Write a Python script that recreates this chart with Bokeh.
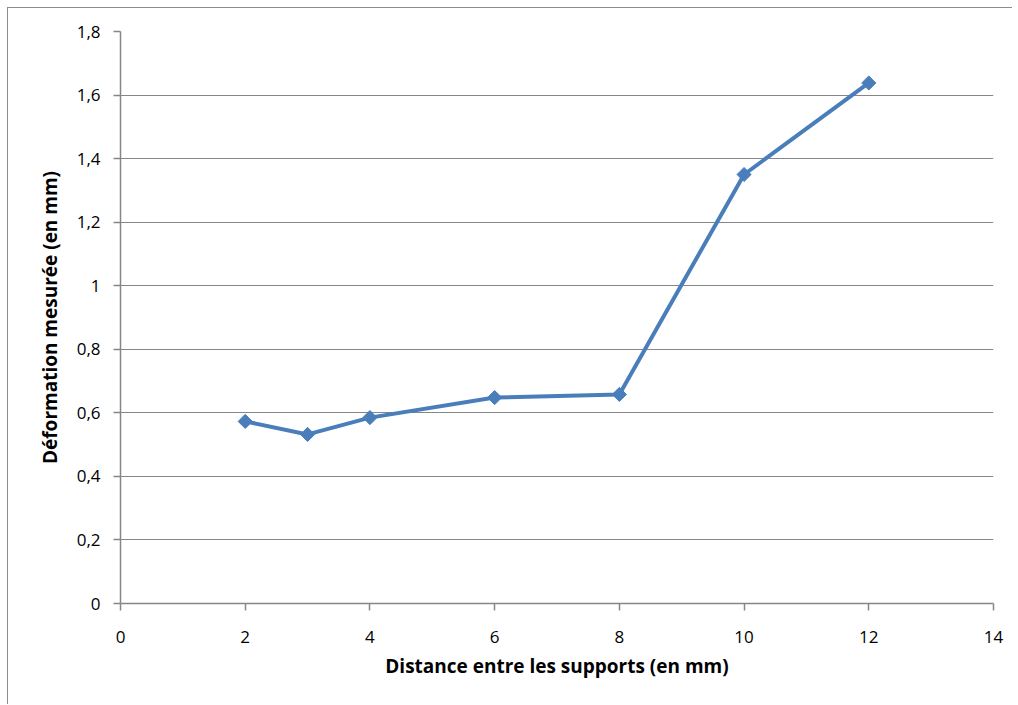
import math
from bokeh.plotting import figure
from bokeh.models import Range1d, FixedTicker, CustomJSTickFormatter
from bokeh.embed import file_html
from bokeh.resources import INLINE

# Data
distance_mm = [2, 3, 4, 6, 8, 10, 12]
deformation_mm = [0.573, 0.532, 0.585, 0.648, 0.658, 1.35, 1.638]
x_ticks = [0, 2, 4, 6, 8, 10, 12, 14]
y_ticks = [0, 0.2, 0.4, 0.6, 0.8, 1.0, 1.2, 1.4, 1.6, 1.8]
x_title = "Distance entre les supports (en mm)"
y_title = "Déformation mesurée (en mm)"

FONT = "Open Sans"
GRID = "#868686"
BLUE = "#4A7EBB"

p = figure(width=1005, height=697, output_backend="svg", toolbar_location=None,
           x_range=Range1d(0, 14), y_range=Range1d(0, 1.8),
           min_border_left=112, min_border_right=20, min_border_top=23, min_border_bottom=102,
           styles={"margin-left": "7px", "margin-top": "7px",
                   "border-left": "1px solid #8c8c8c", "border-top": "1px solid #8c8c8c"})
p.outline_line_color = None
p.background_fill_color = "white"
p.border_fill_color = "white"

p.line(distance_mm, deformation_mm, line_color=BLUE, line_width=4)
p.scatter(distance_mm, deformation_mm, marker="square", angle=math.pi / 4, size=10,
          fill_color=BLUE, line_color=BLUE)

p.xgrid.grid_line_color = None
p.ygrid.grid_line_color = GRID
p.ygrid.grid_line_width = 1

p.xaxis.ticker = FixedTicker(ticks=x_ticks)
p.yaxis.ticker = FixedTicker(ticks=y_ticks)
p.yaxis.formatter = CustomJSTickFormatter(code="""
const r = Math.round(tick*10)/10;
if (Math.abs(r - Math.round(r)) < 1e-9) return String(Math.round(r));
return r.toFixed(1).replace('.', ',');
""")

for ax in (p.xaxis, p.yaxis):
    ax.axis_line_color = GRID
    ax.axis_line_width = 1.5
    ax.major_tick_line_color = GRID
    ax.major_tick_line_width = 1.5
    ax.major_tick_out = 7
    ax.major_tick_in = 0
    ax.minor_tick_line_color = None
    ax.major_label_text_font = FONT
    ax.major_label_text_font_size = "17px"
    ax.major_label_text_color = "#000000"
    ax.axis_label_text_font = FONT
    ax.axis_label_text_font_size = "19px"
    ax.axis_label_text_font_style = "bold"
    ax.axis_label_text_color = "#000000"

p.xaxis.axis_label = x_title
p.yaxis.axis_label = y_title
p.xaxis.major_label_standoff = 20
p.yaxis.major_label_standoff = 13
p.xaxis.axis_label_standoff = 7
p.yaxis.axis_label_standoff = 11

open("out.html", "w").write(file_html(p, INLINE))
